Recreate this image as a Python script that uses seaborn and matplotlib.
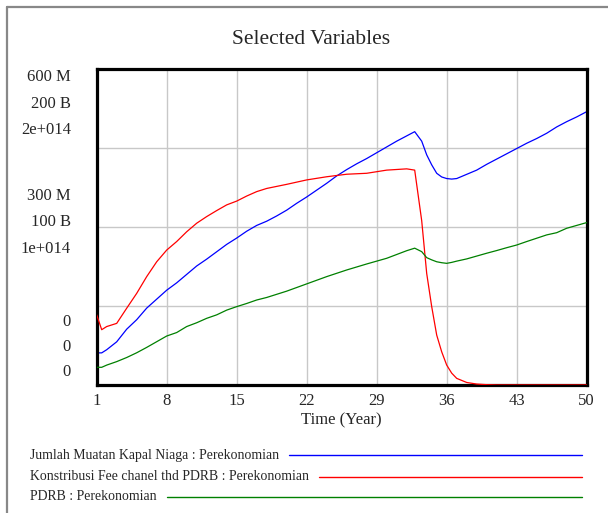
import numpy as np
import pandas as pd
import matplotlib
matplotlib.use("Agg")
import matplotlib.pyplot as plt
from matplotlib.lines import Line2D
import seaborn as sns

# ---------------- data ----------------
time = [1, 1.5, 2, 3, 4, 5, 6, 7, 8, 9, 10, 11, 12, 13, 14, 15, 16, 17, 18, 19, 20,
        21, 22, 23, 24, 25, 26, 27, 28, 29, 30, 31, 32, 32.8, 33.5, 34, 34.5, 35,
        35.5, 36, 36.5, 37, 38, 39, 40, 41, 42, 43, 44, 45, 46, 47, 48, 49, 50]

# Jumlah Muatan Kapal Niaga (scale 0 - 600 M)
muatan = [61e6, 61e6, 67e6, 82e6, 106e6, 124e6, 146e6, 163e6, 180e6, 194e6, 210e6,
          226e6, 239e6, 253e6, 267e6, 279e6, 292e6, 303e6, 311e6, 321e6, 332e6,
          345e6, 357e6, 370e6, 383e6, 397e6, 409e6, 420e6, 430e6, 441e6, 452e6,
          463e6, 473e6, 481e6, 463e6, 437e6, 418e6, 402e6, 395e6, 392e6, 391e6,
          392e6, 400e6, 408e6, 419e6, 429e6, 439e6, 449e6, 459e6, 468e6, 478e6,
          490e6, 500e6, 509e6, 519e6]

# Konstribusi Fee chanel thd PDRB (scale 0 - 200 B)
konstribusi = [44.4e9, 35e9, 37e9, 39e9, 48.6e9, 58e9, 68.6e9, 78e9, 85.4e9, 90.8e9,
               97e9, 102.4e9, 106.6e9, 110.4e9, 114e9, 116.4e9, 119.6e9, 122.4e9,
               124.4e9, 125.7e9, 127e9, 128.4e9, 129.8e9, 130.8e9, 131.8e9, 132.6e9,
               133.4e9, 133.7e9, 134e9, 135e9, 136e9, 136.4e9, 136.8e9, 136e9,
               104e9, 70.6e9, 49.6e9, 31.6e9, 21e9, 12.6e9, 7.5e9, 4.2e9, 1.6e9,
               0.6e9, 0.2e9, 0, 0, 0, 0, 0, 0, 0, 0, 0, 0]

# PDRB (scale 0 - 2e+014)
pdrb = [11.2e12, 11.2e12, 12.6e12, 14.8e12, 17.4e12, 20.4e12, 23.8e12, 27.4e12,
        31e12, 33.2e12, 37e12, 39.4e12, 42.2e12, 44.4e12, 47.4e12, 49.6e12, 51.6e12,
        53.8e12, 55.4e12, 57.4e12, 59.4e12, 61.7e12, 64e12, 66.3e12, 68.6e12,
        70.7e12, 72.8e12, 74.7e12, 76.6e12, 78.4e12, 80.2e12, 82.6e12, 85e12,
        86.6e12, 84.4e12, 80.6e12, 79.2e12, 78e12, 77.4e12, 77e12, 77.6e12,
        78.4e12, 79.8e12, 81.6e12, 83.4e12, 85.1e12, 86.9e12, 88.6e12, 90.8e12,
        92.9e12, 95e12, 96.4e12, 99.2e12, 101e12, 102.8e12]

x_ticks = [1, 8, 15, 22, 29, 36, 43, 50]
y_top_labels = ["600 M", "200 B", "2e+014"]
y_mid_labels = ["300 M", "100 B", "1e+014"]
y_bot_labels = ["0", "0", "0"]
legend_labels = ["Jumlah Muatan Kapal Niaga : Perekonomian",
                 "Konstribusi Fee chanel thd PDRB : Perekonomian",
                 "PDRB : Perekonomian"]
scale_max = [600e6, 200e9, 2e14]
colors = ["#0000ff", "#ff0000", "#008000"]

# ---------------- plotting ----------------
sns.set_theme(style="white")
plt.rcParams["font.family"] = ["Liberation Serif", "DejaVu Serif"]

W, H = 608, 513
fig = plt.figure(figsize=(W / 100, H / 100), dpi=100)

L, R, T, B = 96.7, 586.7, 69, 385
ax = fig.add_axes([L / W, 1 - B / H, (R - L) / W, (B - T) / H])

series = [muatan, konstribusi, pdrb]
axes = [ax, ax.twinx(), ax.twinx()]
for a, vals, smax, c in zip(axes, series, scale_max, colors):
    df = pd.DataFrame({"Time": time, "Value": vals})
    sns.lineplot(data=df, x="Time", y="Value", ax=a, color=c, linewidth=0.9)
    a.set_ylim(0, smax)
    a.set_xlim(1, 50)
    a.set_yticks([])
    a.set_ylabel("")
    a.set_xlabel("")
    for s in a.spines.values():
        s.set_visible(False)

ax.set_yticks(np.linspace(0, scale_max[0], 5))
ax.set_yticklabels([])
ax.tick_params(axis="y", length=0)
ax.set_xticks(x_ticks)
ax.set_xticklabels([str(v) for v in x_ticks], fontsize=12)
ax.tick_params(axis="x", length=0, pad=6)
ax.grid(True, color="#c8c8c8", linewidth=1.0)
ax.set_axisbelow(True)
for s in ax.spines.values():
    s.set_visible(True)
    s.set_color("black")
    s.set_linewidth(2.3)
ax.set_xlabel("Time (Year)", fontsize=12, labelpad=2)

# multi-scale y labels (Vensim style)
def ylabels(labels, ys):
    for lab, y in zip(labels, ys):
        fig.text(71 / W, 1 - y / H, lab, ha="right", va="center", fontsize=12)

ylabels(y_top_labels, [77, 104, 130])
ylabels(y_mid_labels, [196, 222, 249])
ylabels(y_bot_labels, [322, 347, 372])

fig.text(311 / W, 1 - 40 / H, "Selected Variables", ha="center", va="center",
         fontsize=15.5)

# legend rows: label followed by a coloured line
fig.canvas.draw()
renderer = fig.canvas.get_renderer()
for lab, c, y in zip(legend_labels, colors, [455, 477, 497]):
    t = fig.text(30 / W, 1 - y / H, lab, ha="left", va="center", fontsize=9.9)
    bb = t.get_window_extent(renderer=renderer)
    x0 = (bb.x1 + 10) / W
    fig.add_artist(Line2D([x0, 582 / W], [1 - y / H, 1 - y / H], color=c,
                          linewidth=1.0, transform=fig.transFigure))

# outer gray frame (top and left only)
fig.add_artist(Line2D([7 / W, 1], [1 - 7 / H, 1 - 7 / H], color="#888888",
                      linewidth=1.6, transform=fig.transFigure))
fig.add_artist(Line2D([7 / W, 7 / W], [1 - 7 / H, 0], color="#888888",
                      linewidth=1.6, transform=fig.transFigure))

fig.savefig("out.png", dpi=100)
